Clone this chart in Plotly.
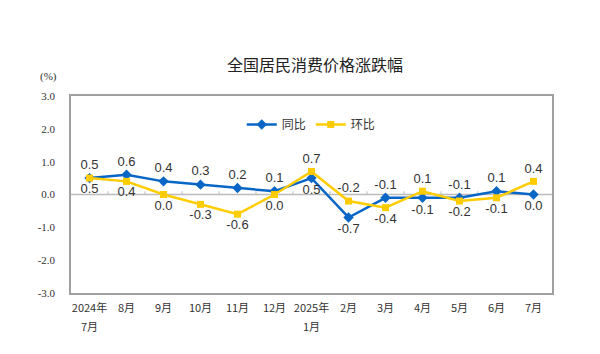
import plotly.graph_objects as go

months_line1 = ["2024年", "8月", "9月", "10月", "11月", "12月", "2025年",
                "2月", "3月", "4月", "5月", "6月", "7月"]
months_line2 = ["7月", "", "", "", "", "", "1月", "", "", "", "", "", ""]
yoy = [0.5, 0.6, 0.4, 0.3, 0.2, 0.1, 0.5, -0.7, -0.1, -0.1, -0.1, 0.1, 0.0]
mom = [0.5, 0.4, 0.0, -0.3, -0.6, 0.0, 0.7, -0.2, -0.4, 0.1, -0.2, -0.1, 0.4]
yoy_pos = ["top center"] * 6 + ["bottom center", "bottom center", "top center",
                                 "bottom center", "top center", "top center", "bottom center"]
mom_pos = ["bottom center"] * 6 + ["top center", "top center", "bottom center",
                                    "top center", "bottom center", "bottom center", "top center"]
yticks = [3.0, 2.0, 1.0, 0.0, -1.0, -2.0, -3.0]

BLUE = "#0866C6"
YELLOW = "#FFCC00"
idx = list(range(len(months_line1)))
n = len(idx)

fig = go.Figure()
fig.add_trace(go.Scatter(
    x=idx, y=yoy, name="同比", mode="lines+markers+text",
    line=dict(color=BLUE, width=2.5), marker=dict(symbol="diamond", size=8, color=BLUE),
    text=[f"{v:.1f}" for v in yoy], textposition=yoy_pos,
    textfont=dict(family="Liberation Sans, Arial", size=13, color="#333333"),
))
fig.add_trace(go.Scatter(
    x=idx, y=mom, name="环比", mode="lines+markers+text",
    line=dict(color=YELLOW, width=2.5), marker=dict(symbol="square", size=7, color=YELLOW),
    text=[f"{v:.1f}" for v in mom], textposition=mom_pos,
    textfont=dict(family="Liberation Sans, Arial", size=13, color="#333333"),
))

# zero line with small tick marks at category boundaries
fig.add_shape(type="line", xref="x", yref="y", x0=-0.5, x1=n - 0.5, y0=0, y1=0,
              line=dict(color="#BBBBBB", width=1.5), layer="below")
for i in range(1, n):
    fig.add_shape(type="line", xref="x", yref="y", x0=i - 0.5, x1=i - 0.5, y0=0, y1=0.1,
                  line=dict(color="#BBBBBB", width=1), layer="below")

annotations = [dict(text="(%)", xref="paper", yref="paper", x=-0.025, y=1.1,
                    xanchor="right", yanchor="middle", showarrow=False,
                    font=dict(family="Liberation Serif", size=11, color="#333333"))]
for i, t in zip(idx, months_line2):
    if t:
        annotations.append(dict(text=t, xref="x", yref="paper", x=i, y=0, yshift=-33,
                                xanchor="center", yanchor="middle", showarrow=False,
                                font=dict(family="Noto Sans CJK SC", size=11, color="#333333")))

fig.update_layout(
    width=600, height=354,
    margin=dict(l=71, r=48, t=96, b=61),
    paper_bgcolor="white", plot_bgcolor="white",
    title=dict(text="全国居民消费价格涨跌幅", x=0.525, xanchor="center", y=0.815, yanchor="middle",
               font=dict(family="Noto Sans CJK SC", size=16, color="#222222")),
    legend=dict(orientation="h", x=0.355, y=0.855, xanchor="left", yanchor="middle",
                font=dict(family="Noto Sans CJK SC", size=12, color="#333333"),
                bgcolor="rgba(0,0,0,0)", itemwidth=30, tracegroupgap=0),
    showlegend=True,
    xaxis=dict(tickmode="array", tickvals=idx, ticktext=months_line1, range=[-0.5, n - 0.5],
               showgrid=False, zeroline=False, showline=True, mirror=True,
               linecolor="#A0A0A0", linewidth=1.5, ticks="", ticklabelstandoff=4,
               tickfont=dict(family="Noto Sans CJK SC", size=11, color="#333333")),
    yaxis=dict(range=[-3, 3], tickvals=yticks, ticktext=[f"{v:.1f}" for v in yticks],
               showgrid=False, zeroline=False, showline=True, mirror=True,
               linecolor="#A0A0A0", linewidth=1.5, ticks="", ticklabelstandoff=12,
               tickfont=dict(family="Liberation Serif, Times New Roman", size=11, color="#333333")),
    annotations=annotations,
)

fig.write_html("out.html")
